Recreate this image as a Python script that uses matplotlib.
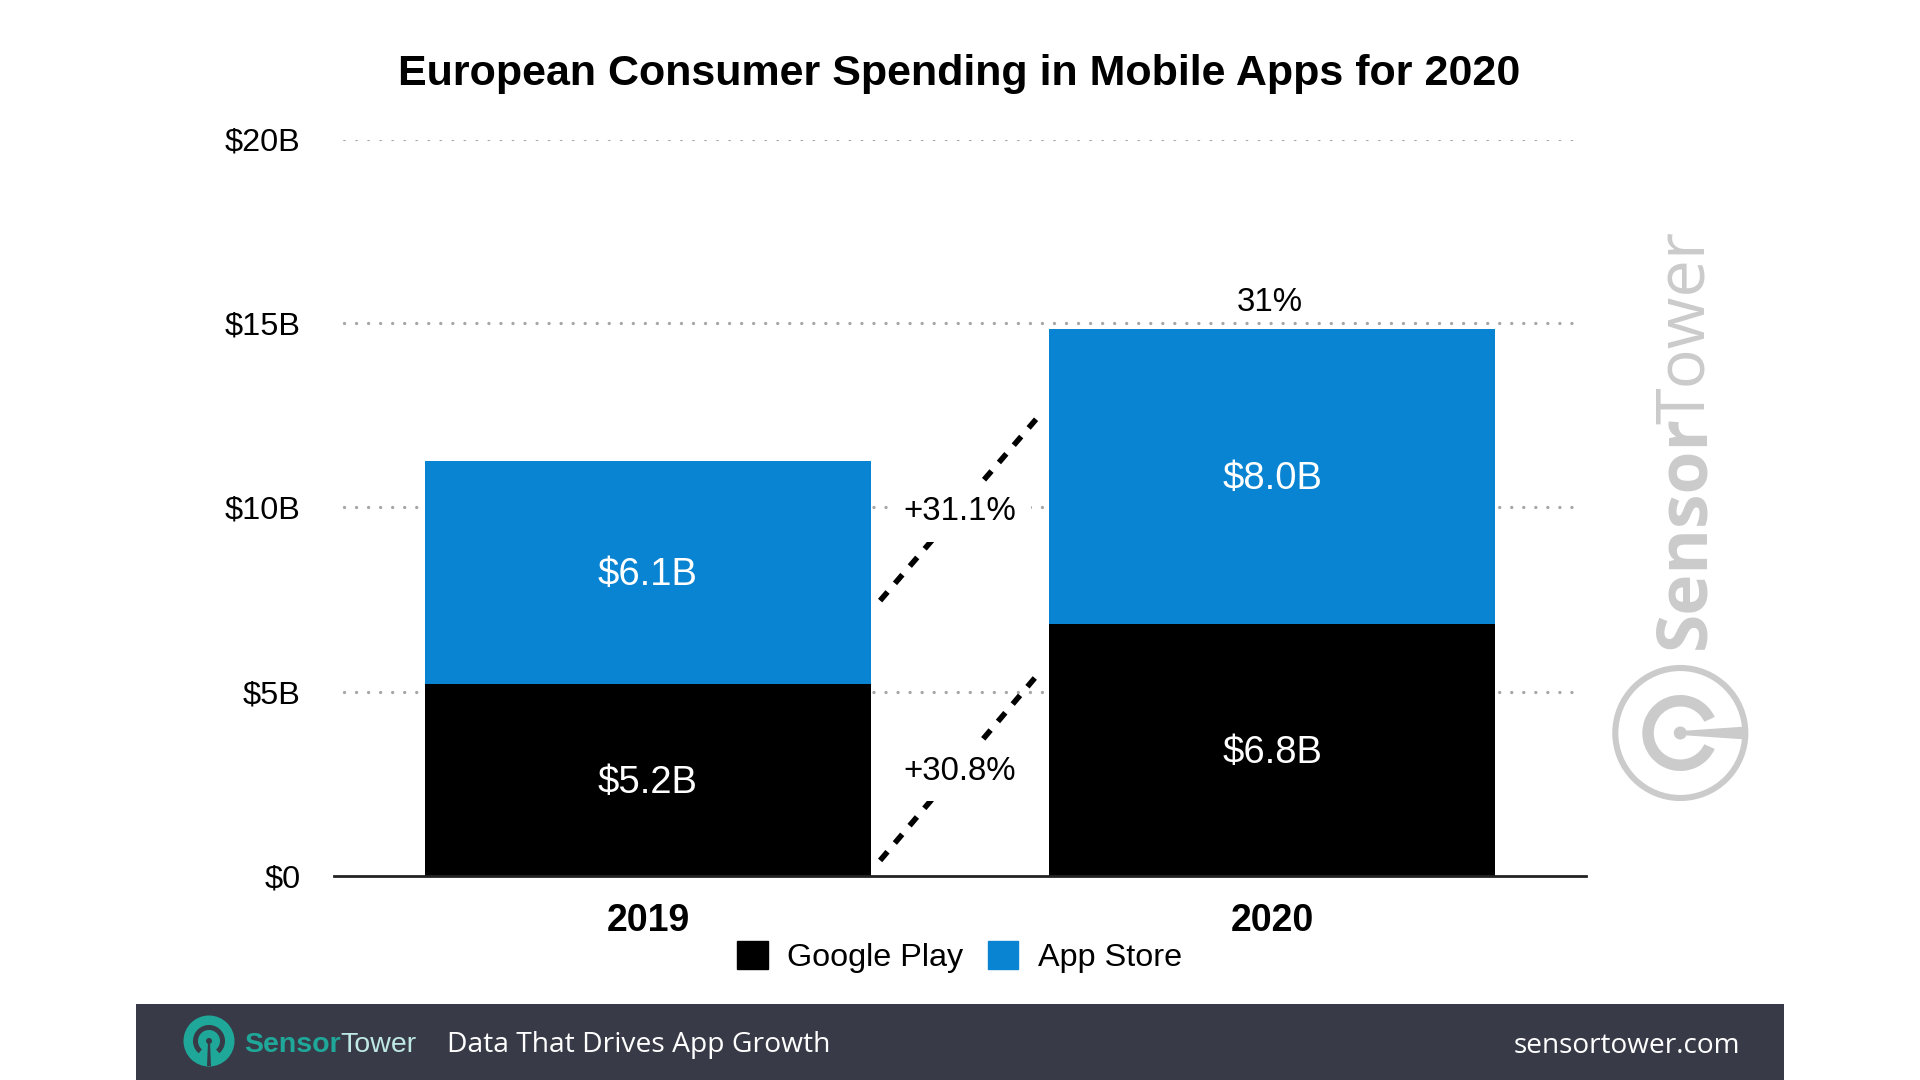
#!/usr/bin/env python3
# -*- coding: utf-8 -*-
import matplotlib
matplotlib.use("Agg")
import numpy as np
import matplotlib.pyplot as plt
from matplotlib.patches import Circle, Wedge, Rectangle, Patch, Polygon

plt.rcParams['font.family'] = ['Liberation Sans', 'DejaVu Sans']

# data
years = ["2019", "2020"]
google_play = [5.2, 6.83]
app_store = [6.07, 8.02]
google_labels = ["$5.2B", "$6.8B"]
app_labels = ["$6.1B", "$8.0B"]
total_growth = "31%"
y_ticks = [0, 5, 10, 15, 20]
y_labels = ["$0", "$5B", "$10B", "$15B", "$20B"]

# growth connectors, in data units
growth_x = [0.372, 0.623]
store_growth_y = [7.47, 12.42]
play_growth_y = [0.41, 5.43]
store_growth = "+31.1%"
play_growth = "+30.8%"

BLUE = "#0884d2"
FOOT = "#383b47"
TEAL = "#1fa899"
MARK = "#cbcbcb"

W, H = 1920.0, 1080.0

def frac(x0, y0, x1, y1):
    # pixel box (top-left origin) to figure fraction
    return [x0 / W, 1 - y1 / H, (x1 - x0) / W, (y1 - y0) / H]

fig = plt.figure(figsize=(19.2, 10.8), dpi=100)

# plot area
ax = fig.add_axes(frac(334, 139.5, 1586, 875.5))
x = np.arange(len(years))
ax.set_xlim(-0.503, 1.503)
ax.set_ylim(0, 20)

ax.hlines(y_ticks[1:], -0.487, 1.483, color="#a6a6a6", lw=2.4,
          linestyles=[(0, (0.01, 3.6))], capstyle="round", zorder=1)

bars1 = ax.bar(x, google_play, width=0.715, color="black", zorder=2)
bars2 = ax.bar(x, app_store, bottom=google_play, width=0.715, color=BLUE, zorder=2)

ax.bar_label(bars1, labels=google_labels, label_type="center", color="white", fontsize=27.5, padding=-2)
ax.bar_label(bars2, labels=app_labels, label_type="center", color="white", fontsize=27.5, padding=-2)
ax.text(x[1] - 0.003, google_play[1] + app_store[1] + 0.72, total_growth, ha="center", va="center", fontsize=23.8)

dash = (0, (2.05, 2.05))
ax.plot(growth_x, store_growth_y, color="black", lw=4.0, linestyle=dash, zorder=3)
ax.plot(growth_x, play_growth_y, color="black", lw=4.0, linestyle=dash, zorder=3)

box = dict(fc="white", ec="none", pad=10.5)
ax.text(0.5, 9.88, store_growth, ha="center", va="center", fontsize=23.8, bbox=box, zorder=4)
ax.text(0.5, 2.83, play_growth, ha="center", va="center", fontsize=23.8, bbox=box, zorder=4)

for side in ["top", "left", "right"]:
    ax.spines[side].set_visible(False)
ax.spines["bottom"].set_linewidth(2.0)
ax.spines["bottom"].set_color("#222222")
ax.spines["bottom"].set_zorder(5)

ax.set_yticks(y_ticks, y_labels, fontsize=23.4)
ax.set_xticks(x, years, fontsize=27, fontweight="bold")
ax.tick_params(axis="both", length=0)
ax.tick_params(axis="y", pad=24)
ax.tick_params(axis="x", pad=20)

fig.text(959.5 / W, 1 - 74 / H, "European Consumer Spending in Mobile Apps for 2020",
         ha="center", va="center", fontsize=31, fontweight="bold")

handles = [Patch(color="black", label="Google Play"), Patch(color=BLUE, label="App Store")]
fig.legend(handles=handles, loc="center", bbox_to_anchor=(959.5 / W, 1 - 957 / H), ncol=2,
           frameon=False, fontsize=23.3, handlelength=0.95, handleheight=0.95,
           handletextpad=0.6, columnspacing=0.75, borderpad=0)

# page layer for footer and watermark, pixel coordinates
page = fig.add_axes([0, 0, 1, 1], zorder=-1)
page.set_xlim(0, W)
page.set_ylim(H, 0)
page.axis("off")

# footer
page.add_patch(Rectangle((136, 1004), 1648, 76, fc=FOOT, ec="none"))
page.add_patch(Circle((209, 1041), 25.5, fc=TEAL, ec="none"))
page.add_patch(Wedge((209, 1041), 16, 130, 410, width=5, fc=FOOT, ec="none"))
page.add_patch(Circle((209, 1041), 3, fc=FOOT, ec="none"))
page.add_patch(Polygon([(208, 1041), (210, 1041), (211, 1066), (207, 1066)], fc=FOOT, ec="none"))
page.text(244, 1045, "Sensor", color=TEAL, fontsize=20.5, fontweight="bold", ha="left", va="center")
page.text(340, 1045, "Tower", color="#bfe8e4", fontsize=20.5, ha="left", va="center")
page.text(447, 1045, "Data That Drives App Growth", color="white", fontsize=20.3,
          family="Open Sans", ha="left", va="center")
page.text(1740, 1046, "sensortower.com", color="white", fontsize=20.2,
          family="Open Sans", ha="right", va="center")

# watermark
page.text(1686, 649, "Sensor", color=MARK, fontsize=50, fontweight="bold",
          family="Open Sans", rotation=90, ha="center", va="bottom")
page.text(1686, 424, "Tower", color=MARK, fontsize=48,
          family="Open Sans", rotation=90, ha="center", va="bottom")
cx, cy = 1680.3, 733
page.add_patch(Circle((cx, cy), 65, fc="none", ec=MARK, lw=4.4))
page.add_patch(Wedge((cx, cy), 38, 25, 335, width=11.5, fc=MARK, ec="none"))
page.add_patch(Circle((cx, cy), 6.5, fc=MARK, ec="none"))
page.add_patch(Polygon([(cx, cy - 2), (cx + 66, cy - 6.5), (cx + 66, cy + 6.5), (cx, cy + 2)], fc=MARK, ec="none"))

fig.savefig("out.png", dpi=100)
